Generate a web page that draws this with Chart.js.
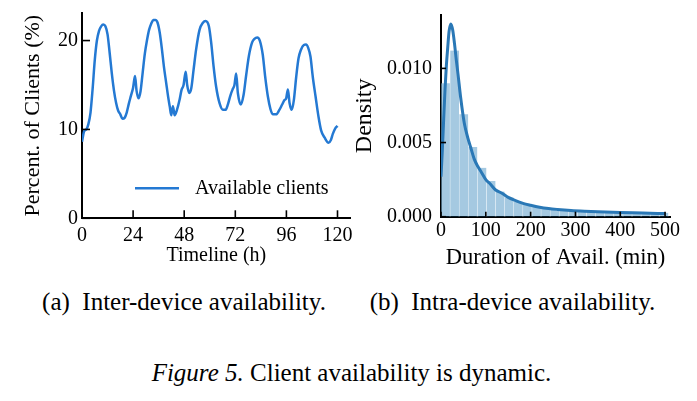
<!DOCTYPE html>
<html>
<head>
<meta charset="utf-8">
<script src="https://cdn.jsdelivr.net/npm/chart.js@4.4.1/dist/chart.umd.min.js"></script>
<style>
  html, body { margin:0; padding:0; background:#fff; }
  body { width:697px; height:401px; position:relative; overflow:hidden; font-family:'Liberation Serif','DejaVu Serif',serif; color:#000; }
  canvas { position:absolute; }
  #cL { left:0; top:0; }
  #cR { left:345px; top:0; }
  .cap { position:absolute; font-family:'Liberation Serif',serif; font-size:25px; white-space:nowrap; text-align:center; line-height:1; }
</style>
</head>
<body>
<canvas id="cL" width="355" height="270"></canvas>
<canvas id="cR" width="352" height="270"></canvas>
<div class="cap" style="left:0; width:368px; top:289px;">(a)&nbsp; Inter-device availability.</div>
<div class="cap" style="left:330px; width:365px; top:289px;">(b)&nbsp; Intra-device availability.</div>
<div class="cap" style="left:0; width:703px; top:360px;"><i>Figure 5.</i> Client availability is dynamic.</div>
<script>
// ---- Panel (a): inter-device availability ----
const hours = [0,1,2,3,4,5,6,7,8,9,10,11,12,13,14,15,16,17,18,19,20,21,22,23,24,24.9,25.6,26.5,27.5,28.5,29.5,30.5,31.5,32.5,33.5,34.5,35.5,36.5,37.5,38.5,39.5,40.5,41.2,41.9,42.7,43.5,44.6,45.8,46.7,47.7,48.7,49.4,50.4,51.3,52.4,53.6,55.2,56.8,58.0,59.6,60.7,61.8,63.0,64.6,66.2,67.4,68.5,69.8,70.9,71.6,72.4,73.2,74.6,75.9,77.1,78.4,79.9,81,82.3,83.5,84.9,86,87.3,88.5,89.6,91.2,92.7,94,95.1,95.9,96.7,97.5,98.5,99.5,100.6,101.7,102.9,104.2,105.2,106.2,107.3,108.4,109.7,111.1,112.3,113.9,115.8,116.9,117.8,118.9,120];
const availableClients = [8.6,9.8,10.0,10.6,11.9,14.6,17.8,20.0,21.1,21.6,21.8,21.6,20.7,18.6,16.3,14.4,13.0,12.1,11.7,11.2,11.3,11.9,12.9,13.8,14.7,16.0,14.4,13.5,14.3,16.4,18.5,20.0,21.2,21.9,22.3,22.3,22.0,20.9,19.1,17.0,15.3,13.6,12.6,11.6,12.6,11.6,12.2,13.3,14.4,15.0,16.5,15.0,14.1,14.6,16.7,19.0,21.2,22.0,22.2,21.6,19.7,17.1,14.8,12.95,12.2,12.2,12.8,13.9,14.6,15.0,16.3,14.1,12.8,13.9,16.1,18.3,19.8,20.2,20.35,20.0,18.4,16.0,13.7,12.3,11.7,11.7,12.2,12.8,13.3,13.5,14.5,12.95,12.2,13.3,15.9,18.0,19.0,19.5,19.55,19.2,18.2,15.9,13.7,11.4,9.9,9.1,8.5,8.8,9.5,10.1,10.4];
const leftXTicks = [0,24,48,72,96,120];
const leftYTicks = [0,10,20];

// ---- Panel (b): intra-device availability ----
const binCenters = [10.15,30.45,50.75,71.05,91.35,111.65,131.95,152.25,172.55,192.85,213.15,233.45,253.75,274.05,294.35,314.65,334.95,355.25,375.55,395.85,416.15,436.45,456.75,477.05,497.35];
const binDensity = [0.0090,0.0112,0.0069,0.0047,0.0033,0.0024,0.0017,0.0013,0.0010,0.0008,0.00066,0.00056,0.00049,0.00043,0.00039,0.00035,0.00032,0.00030,0.00028,0.00027,0.00026,0.00025,0.00024,0.00023,0.00026];
const kdeX = [0,3,6,9,12,15,18,22,26,30,34,38,44,52,60,66,74,82,90,100,110,122,135,150,165,183,200,220,240,260,290,320,350,400,450,500];
const kdeY = [0.0027,0.0045,0.0066,0.0086,0.0102,0.0114,0.0125,0.0130,0.0126,0.0117,0.0106,0.0096,0.0080,0.0063,0.0053,0.0047,0.0039,0.0034,0.0030,0.0025,0.0022,0.0018,0.0016,0.0013,0.0011,0.0009,0.00077,0.00064,0.00055,0.00049,0.00042,0.00037,0.00033,0.00028,0.00025,0.00021];
const rightXTicks = [0,100,200,300,400,500];
const rightYTicks = [0,0.005,0.010];

Chart.defaults.font.family = "'Liberation Serif','DejaVu Serif',serif";
Chart.defaults.color = '#000';

const inwardTicks = {
  id: 'inwardTicks',
  afterDraw(chart, args, opts) {
    const {ctx, chartArea, scales} = chart;
    ctx.save();
    ctx.strokeStyle = '#000';
    ctx.lineWidth = opts.width || 1.5;
    const L = opts.len || 6;
    scales.x.ticks.forEach(t => {
      const px = scales.x.getPixelForValue(t.value);
      ctx.beginPath(); ctx.moveTo(px, chartArea.bottom); ctx.lineTo(px, chartArea.bottom - L); ctx.stroke();
    });
    scales.y.ticks.forEach(t => {
      const py = scales.y.getPixelForValue(t.value);
      ctx.beginPath(); ctx.moveTo(chartArea.left, py); ctx.lineTo(chartArea.left + L, py); ctx.stroke();
    });
    ctx.restore();
  }
};

const innerLegend = {
  id: 'innerLegend',
  afterDatasetsDraw(chart, args, opts) {
    if (!opts.show) return;
    const {ctx, chartArea} = chart;
    const ds = chart.data.datasets[0];
    const y = chartArea.bottom - 30;
    const x0 = chartArea.left + 53;
    ctx.save();
    ctx.strokeStyle = ds.borderColor;
    ctx.lineWidth = ds.borderWidth;
    ctx.beginPath(); ctx.moveTo(x0, y); ctx.lineTo(x0 + 44, y); ctx.stroke();
    ctx.fillStyle = '#000';
    ctx.font = "20px 'Liberation Serif','DejaVu Serif',serif";
    ctx.textBaseline = 'middle';
    ctx.fillText(ds.label, x0 + 60, y);
    ctx.restore();
  }
};

new Chart(document.getElementById('cL'), {
  type: 'line',
  data: {
    datasets: [{
      label: 'Available clients',
      data: hours.map((h, i) => ({x: h, y: availableClients[i]})),
      borderColor: '#2479d3',
      borderWidth: 2.5,
      pointRadius: 0,
      cubicInterpolationMode: 'monotone',
      fill: false
    }]
  },
  options: {
    responsive: false, animation: false, devicePixelRatio: 1,
    layout: { padding: { left: 0, top: 13, right: 4.3, bottom: 0 } },
    plugins: { legend: { display: false }, tooltip: { enabled: false }, inwardTicks: { len: 8, width: 1.6 }, innerLegend: { show: true } },
    scales: {
      x: {
        type: 'linear', min: 0, max: 126.2,
        afterBuildTicks: s => { s.ticks = leftXTicks.map(v => ({value: v})); },
        afterFit: s => { s.height = 51.7; s.paddingLeft = 0; s.paddingRight = 0; },
        grid: { display: false, drawTicks: false },
        border: { display: true, color: '#000', width: 2 },
        ticks: { font: { size: 20 }, color: '#000', padding: 5, maxRotation: 0, autoSkip: false },
        title: { display: true, text: 'Timeline (h)', font: { size: 20, lineHeight: 1 }, color: '#000', padding: { top: 0, bottom: 4 } }
      },
      y: {
        type: 'linear', min: 0, max: 23.1,
        afterBuildTicks: s => { s.ticks = leftYTicks.map(v => ({value: v})); },
        afterFit: s => { s.width = 82; s.paddingTop = 0; s.paddingBottom = 0; },
        grid: { display: false, drawTicks: false },
        border: { display: true, color: '#000', width: 2 },
        ticks: { font: { size: 20 }, color: '#000', padding: 4 },
        title: { display: true, text: 'Percent. of Clients (%)', font: { size: 22, lineHeight: 1 }, color: '#000', padding: { top: 22, bottom: 0 } }
      }
    }
  },
  plugins: [inwardTicks, innerLegend]
});

new Chart(document.getElementById('cR'), {
  data: {
    datasets: [{
      type: 'line',
      label: 'KDE',
      data: kdeX.map((x, i) => ({x: x, y: kdeY[i]})),
      borderColor: '#2a78b6',
      borderWidth: 3,
      pointRadius: 0,
      cubicInterpolationMode: 'monotone',
      fill: false
    }, {
      type: 'bar',
      label: 'Histogram',
      data: binCenters.map((x, i) => ({x: x, y: binDensity[i]})),
      backgroundColor: 'rgba(31,119,180,0.4)',
      borderColor: 'rgba(255,255,255,0.45)',
      borderWidth: {left: 0.5, right: 0.5, top: 0, bottom: 0},
      barPercentage: 1.0,
      categoryPercentage: 1.0
    }]
  },
  options: {
    responsive: false, animation: false, devicePixelRatio: 1,
    layout: { padding: { left: 0, top: 15, right: 27, bottom: 0 } },
    plugins: { legend: { display: false }, tooltip: { enabled: false }, inwardTicks: { len: 5, width: 1.6 }, innerLegend: { show: false } },
    scales: {
      x: {
        type: 'linear', min: 0, max: 511, offset: false,
        afterBuildTicks: s => { s.ticks = rightXTicks.map(v => ({value: v})); },
        afterFit: s => { s.height = 53.3; s.paddingLeft = 0; s.paddingRight = 0; },
        grid: { display: false, offset: false, drawTicks: false },
        border: { display: true, color: '#000', width: 2 },
        ticks: { font: { size: 20 }, color: '#000', padding: 2, maxRotation: 0, autoSkip: false },
        title: { display: true, text: 'Duration of Avail. (min)', font: { size: 22.5, lineHeight: 1 }, color: '#000', padding: { top: 0, bottom: 1 } }
      },
      y: {
        type: 'linear', min: 0, max: 0.0136,
        afterBuildTicks: s => { s.ticks = rightYTicks.map(v => ({value: v})); },
        afterFit: s => { s.width = 96; s.paddingTop = 0; s.paddingBottom = 0; },
        grid: { display: false, drawTicks: false },
        border: { display: true, color: '#000', width: 2 },
        ticks: { font: { size: 20 }, color: '#000', padding: 9, callback: v => Number(v).toFixed(3) },
        title: { display: true, text: 'Density', font: { size: 24, lineHeight: 1 }, color: '#000', padding: { top: 8, bottom: 0 } }
      }
    }
  },
  plugins: [inwardTicks, innerLegend]
});
</script>
</body>
</html>
